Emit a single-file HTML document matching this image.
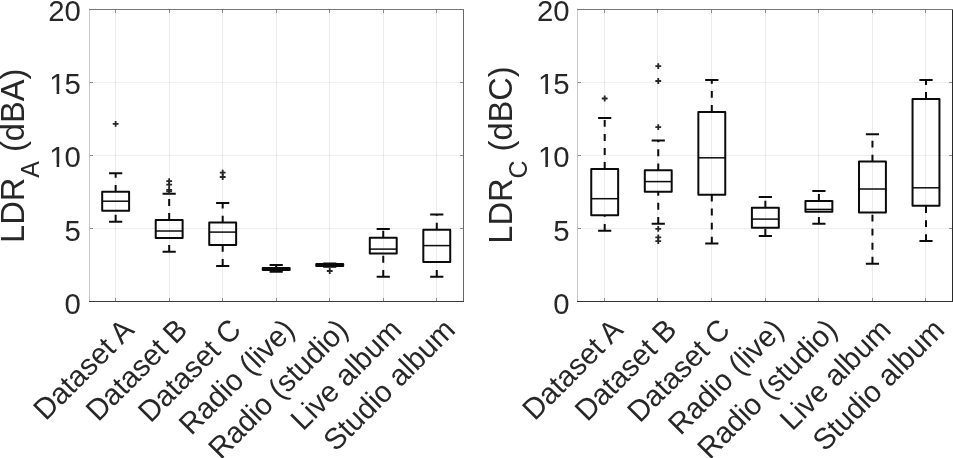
<!DOCTYPE html>
<html lang="en"><head><meta charset="utf-8"><title>LDR box plots</title>
<style>html,body{margin:0;padding:0;background:#fff;overflow:hidden}svg{display:block}</style>
</head><body>
<svg width="953" height="458" viewBox="0 0 953 458" font-family='"Liberation Sans", sans-serif' fill="#262626">
<rect width="953" height="458" fill="#fff"/>
<rect x="115" y="10" width="1" height="291" fill="rgba(38,38,38,0.095)"/>
<rect x="169" y="10" width="1" height="291" fill="rgba(38,38,38,0.095)"/>
<rect x="222" y="10" width="1" height="291" fill="rgba(38,38,38,0.095)"/>
<rect x="276" y="10" width="1" height="291" fill="rgba(38,38,38,0.095)"/>
<rect x="329" y="10" width="1" height="291" fill="rgba(38,38,38,0.095)"/>
<rect x="383" y="10" width="1" height="291" fill="rgba(38,38,38,0.095)"/>
<rect x="436" y="10" width="1" height="291" fill="rgba(38,38,38,0.095)"/>
<rect x="90" y="82" width="373" height="1" fill="rgba(38,38,38,0.075)"/>
<rect x="90" y="155" width="373" height="1" fill="rgba(38,38,38,0.075)"/>
<rect x="90" y="228" width="373" height="1" fill="rgba(38,38,38,0.075)"/>
<rect x="115" y="10" width="1" height="3" fill="#8c8c8c"/>
<rect x="115" y="298" width="1" height="3" fill="#8c8c8c"/>
<rect x="169" y="10" width="1" height="3" fill="#8c8c8c"/>
<rect x="169" y="298" width="1" height="3" fill="#8c8c8c"/>
<rect x="222" y="10" width="1" height="3" fill="#8c8c8c"/>
<rect x="222" y="298" width="1" height="3" fill="#8c8c8c"/>
<rect x="276" y="10" width="1" height="3" fill="#8c8c8c"/>
<rect x="276" y="298" width="1" height="3" fill="#8c8c8c"/>
<rect x="329" y="10" width="1" height="3" fill="#8c8c8c"/>
<rect x="329" y="298" width="1" height="3" fill="#8c8c8c"/>
<rect x="383" y="10" width="1" height="3" fill="#8c8c8c"/>
<rect x="383" y="298" width="1" height="3" fill="#8c8c8c"/>
<rect x="436" y="10" width="1" height="3" fill="#8c8c8c"/>
<rect x="436" y="298" width="1" height="3" fill="#8c8c8c"/>
<rect x="90" y="82" width="3" height="1" fill="#8c8c8c"/>
<rect x="460" y="82" width="3" height="1" fill="#8c8c8c"/>
<rect x="90" y="155" width="3" height="1" fill="#8c8c8c"/>
<rect x="460" y="155" width="3" height="1" fill="#8c8c8c"/>
<rect x="90" y="228" width="3" height="1" fill="#8c8c8c"/>
<rect x="460" y="228" width="3" height="1" fill="#8c8c8c"/>
<rect x="89" y="9" width="1" height="293" fill="#c8c8c8"/>
<rect x="463" y="9" width="1" height="293" fill="#686868"/>
<rect x="89" y="9" width="375" height="1" fill="#777777"/>
<rect x="89" y="301" width="375" height="1" fill="#3a3a3a"/>
<path d="M115.65 191.8V173.3M115.65 221.7V210.7" stroke="#0b0b0b" stroke-width="2.0" stroke-dasharray="6.9 7.15" fill="none"/>
<path d="M109.05 173.3h13.2M109.05 221.7h13.2" stroke="#0b0b0b" stroke-width="2.0" fill="none"/>
<rect x="102.20" y="191.8" width="26.9" height="18.90" stroke="#0b0b0b" stroke-width="2.0" fill="none" stroke-linejoin="round"/>
<path d="M102.20 201.2h26.9" stroke="#0b0b0b" stroke-width="1.5" fill="none"/>
<path d="M112.75 123.9h5.8M115.65 121.00v5.8" stroke="#262626" stroke-width="1.8" fill="none"/>
<path d="M169.17 220.0V193.7M169.17 251.8V237.9" stroke="#0b0b0b" stroke-width="2.0" stroke-dasharray="6.9 7.15" fill="none"/>
<path d="M162.57 193.7h13.2M162.57 251.8h13.2" stroke="#0b0b0b" stroke-width="2.0" fill="none"/>
<rect x="155.72" y="220.0" width="26.9" height="17.90" stroke="#0b0b0b" stroke-width="2.0" fill="none" stroke-linejoin="round"/>
<path d="M155.72 231.0h26.9" stroke="#0b0b0b" stroke-width="1.5" fill="none"/>
<path d="M166.27 181.2h5.8M169.17 178.30v5.8" stroke="#262626" stroke-width="1.8" fill="none"/>
<path d="M166.27 184.7h5.8M169.17 181.80v5.8" stroke="#262626" stroke-width="1.8" fill="none"/>
<path d="M166.27 189.8h5.8M169.17 186.90v5.8" stroke="#262626" stroke-width="1.8" fill="none"/>
<path d="M166.27 191.3h5.8M169.17 188.40v5.8" stroke="#262626" stroke-width="1.8" fill="none"/>
<path d="M222.69 222.6V203.0M222.69 265.9V245.1" stroke="#0b0b0b" stroke-width="2.0" stroke-dasharray="6.9 7.15" fill="none"/>
<path d="M216.09 203.0h13.2M216.09 265.9h13.2" stroke="#0b0b0b" stroke-width="2.0" fill="none"/>
<rect x="209.24" y="222.6" width="26.9" height="22.50" stroke="#0b0b0b" stroke-width="2.0" fill="none" stroke-linejoin="round"/>
<path d="M209.24 232.1h26.9" stroke="#0b0b0b" stroke-width="1.5" fill="none"/>
<path d="M219.79 172.6h5.8M222.69 169.70v5.8" stroke="#262626" stroke-width="1.8" fill="none"/>
<path d="M219.79 177.0h5.8M222.69 174.10v5.8" stroke="#262626" stroke-width="1.8" fill="none"/>
<path d="M276.21 267.9V265.0M276.21 271.8V269.9" stroke="#0b0b0b" stroke-width="2.0" stroke-dasharray="6.9 7.15" fill="none"/>
<path d="M269.61 265.0h13.2M269.61 271.8h13.2" stroke="#0b0b0b" stroke-width="2.0" fill="none"/>
<rect x="262.76" y="267.9" width="26.9" height="2.00" stroke="#0b0b0b" stroke-width="2.0" fill="none" stroke-linejoin="round"/>
<path d="M262.76 268.9h26.9" stroke="#0b0b0b" stroke-width="1.5" fill="none"/>
<path d="M329.73 263.9V263.6M329.73 266.8V266.0" stroke="#0b0b0b" stroke-width="2.0" stroke-dasharray="6.9 7.15" fill="none"/>
<path d="M323.13 263.6h13.2M323.13 266.8h13.2" stroke="#0b0b0b" stroke-width="2.0" fill="none"/>
<rect x="316.28" y="263.9" width="26.9" height="2.10" stroke="#0b0b0b" stroke-width="2.0" fill="none" stroke-linejoin="round"/>
<path d="M316.28 264.9h26.9" stroke="#0b0b0b" stroke-width="1.5" fill="none"/>
<path d="M326.83 271h5.8M329.73 268.10v5.8" stroke="#262626" stroke-width="1.8" fill="none"/>
<path d="M383.25 237.7V228.9M383.25 276.8V253.6" stroke="#0b0b0b" stroke-width="2.0" stroke-dasharray="6.9 7.15" fill="none"/>
<path d="M376.65 228.9h13.2M376.65 276.8h13.2" stroke="#0b0b0b" stroke-width="2.0" fill="none"/>
<rect x="369.80" y="237.7" width="26.9" height="15.90" stroke="#0b0b0b" stroke-width="2.0" fill="none" stroke-linejoin="round"/>
<path d="M369.80 249.1h26.9" stroke="#0b0b0b" stroke-width="1.5" fill="none"/>
<path d="M436.77 229.7V214.6M436.77 276.8V262.0" stroke="#0b0b0b" stroke-width="2.0" stroke-dasharray="6.9 7.15" fill="none"/>
<path d="M430.17 214.6h13.2M430.17 276.8h13.2" stroke="#0b0b0b" stroke-width="2.0" fill="none"/>
<rect x="423.32" y="229.7" width="26.9" height="32.30" stroke="#0b0b0b" stroke-width="2.0" fill="none" stroke-linejoin="round"/>
<path d="M423.32 245.6h26.9" stroke="#0b0b0b" stroke-width="1.5" fill="none"/>
<rect x="604" y="10" width="1" height="291" fill="rgba(38,38,38,0.095)"/>
<rect x="657" y="10" width="1" height="291" fill="rgba(38,38,38,0.095)"/>
<rect x="711" y="10" width="1" height="291" fill="rgba(38,38,38,0.095)"/>
<rect x="765" y="10" width="1" height="291" fill="rgba(38,38,38,0.095)"/>
<rect x="818" y="10" width="1" height="291" fill="rgba(38,38,38,0.095)"/>
<rect x="872" y="10" width="1" height="291" fill="rgba(38,38,38,0.095)"/>
<rect x="925" y="10" width="1" height="291" fill="rgba(38,38,38,0.095)"/>
<rect x="578" y="82" width="374" height="1" fill="rgba(38,38,38,0.075)"/>
<rect x="578" y="155" width="374" height="1" fill="rgba(38,38,38,0.075)"/>
<rect x="578" y="228" width="374" height="1" fill="rgba(38,38,38,0.075)"/>
<rect x="604" y="10" width="1" height="3" fill="#8c8c8c"/>
<rect x="604" y="298" width="1" height="3" fill="#8c8c8c"/>
<rect x="657" y="10" width="1" height="3" fill="#8c8c8c"/>
<rect x="657" y="298" width="1" height="3" fill="#8c8c8c"/>
<rect x="711" y="10" width="1" height="3" fill="#8c8c8c"/>
<rect x="711" y="298" width="1" height="3" fill="#8c8c8c"/>
<rect x="765" y="10" width="1" height="3" fill="#8c8c8c"/>
<rect x="765" y="298" width="1" height="3" fill="#8c8c8c"/>
<rect x="818" y="10" width="1" height="3" fill="#8c8c8c"/>
<rect x="818" y="298" width="1" height="3" fill="#8c8c8c"/>
<rect x="872" y="10" width="1" height="3" fill="#8c8c8c"/>
<rect x="872" y="298" width="1" height="3" fill="#8c8c8c"/>
<rect x="925" y="10" width="1" height="3" fill="#8c8c8c"/>
<rect x="925" y="298" width="1" height="3" fill="#8c8c8c"/>
<rect x="578" y="82" width="3" height="1" fill="#8c8c8c"/>
<rect x="949" y="82" width="3" height="1" fill="#8c8c8c"/>
<rect x="578" y="155" width="3" height="1" fill="#8c8c8c"/>
<rect x="949" y="155" width="3" height="1" fill="#8c8c8c"/>
<rect x="578" y="228" width="3" height="1" fill="#8c8c8c"/>
<rect x="949" y="228" width="3" height="1" fill="#8c8c8c"/>
<rect x="577" y="9" width="1" height="293" fill="#c8c8c8"/>
<rect x="952" y="9" width="1" height="293" fill="#2a2a2a"/>
<rect x="577" y="9" width="376" height="1" fill="#777777"/>
<rect x="577" y="301" width="376" height="1" fill="#333333"/>
<path d="M604.70 169.0V117.9M604.70 230.8V215.2" stroke="#0b0b0b" stroke-width="2.0" stroke-dasharray="6.9 7.15" fill="none"/>
<path d="M598.10 117.9h13.2M598.10 230.8h13.2" stroke="#0b0b0b" stroke-width="2.0" fill="none"/>
<rect x="591.25" y="169.0" width="26.9" height="46.20" stroke="#0b0b0b" stroke-width="2.0" fill="none" stroke-linejoin="round"/>
<path d="M591.25 198.7h26.9" stroke="#0b0b0b" stroke-width="1.5" fill="none"/>
<path d="M601.80 98.5h5.8M604.70 95.60v5.8" stroke="#262626" stroke-width="1.8" fill="none"/>
<path d="M658.25 170.3V140.4M658.25 223.8V191.8" stroke="#0b0b0b" stroke-width="2.0" stroke-dasharray="6.9 7.15" fill="none"/>
<path d="M651.65 140.4h13.2M651.65 223.8h13.2" stroke="#0b0b0b" stroke-width="2.0" fill="none"/>
<rect x="644.80" y="170.3" width="26.9" height="21.50" stroke="#0b0b0b" stroke-width="2.0" fill="none" stroke-linejoin="round"/>
<path d="M644.80 181.6h26.9" stroke="#0b0b0b" stroke-width="1.5" fill="none"/>
<path d="M655.35 66.1h5.8M658.25 63.20v5.8" stroke="#262626" stroke-width="1.8" fill="none"/>
<path d="M655.35 81h5.8M658.25 78.10v5.8" stroke="#262626" stroke-width="1.8" fill="none"/>
<path d="M655.35 127.2h5.8M658.25 124.30v5.8" stroke="#262626" stroke-width="1.8" fill="none"/>
<path d="M655.35 228.9h5.8M658.25 226.00v5.8" stroke="#262626" stroke-width="1.8" fill="none"/>
<path d="M655.35 237.3h5.8M658.25 234.40v5.8" stroke="#262626" stroke-width="1.8" fill="none"/>
<path d="M655.35 241.1h5.8M658.25 238.20v5.8" stroke="#262626" stroke-width="1.8" fill="none"/>
<path d="M711.80 111.9V80.0M711.80 243.6V194.7" stroke="#0b0b0b" stroke-width="2.0" stroke-dasharray="6.9 7.15" fill="none"/>
<path d="M705.20 80.0h13.2M705.20 243.6h13.2" stroke="#0b0b0b" stroke-width="2.0" fill="none"/>
<rect x="698.35" y="111.9" width="26.9" height="82.80" stroke="#0b0b0b" stroke-width="2.0" fill="none" stroke-linejoin="round"/>
<path d="M698.35 157.8h26.9" stroke="#0b0b0b" stroke-width="1.5" fill="none"/>
<path d="M765.35 207.7V197.0M765.35 235.9V227.8" stroke="#0b0b0b" stroke-width="2.0" stroke-dasharray="6.9 7.15" fill="none"/>
<path d="M758.75 197.0h13.2M758.75 235.9h13.2" stroke="#0b0b0b" stroke-width="2.0" fill="none"/>
<rect x="751.90" y="207.7" width="26.9" height="20.10" stroke="#0b0b0b" stroke-width="2.0" fill="none" stroke-linejoin="round"/>
<path d="M751.90 219.1h26.9" stroke="#0b0b0b" stroke-width="1.5" fill="none"/>
<path d="M818.90 201.0V190.9M818.90 223.8V211.7" stroke="#0b0b0b" stroke-width="2.0" stroke-dasharray="6.9 7.15" fill="none"/>
<path d="M812.30 190.9h13.2M812.30 223.8h13.2" stroke="#0b0b0b" stroke-width="2.0" fill="none"/>
<rect x="805.45" y="201.0" width="26.9" height="10.70" stroke="#0b0b0b" stroke-width="2.0" fill="none" stroke-linejoin="round"/>
<path d="M805.45 209.4h26.9" stroke="#0b0b0b" stroke-width="1.5" fill="none"/>
<path d="M872.45 161.6V134.2M872.45 263.7V212.5" stroke="#0b0b0b" stroke-width="2.0" stroke-dasharray="6.9 7.15" fill="none"/>
<path d="M865.85 134.2h13.2M865.85 263.7h13.2" stroke="#0b0b0b" stroke-width="2.0" fill="none"/>
<rect x="859.00" y="161.6" width="26.9" height="50.90" stroke="#0b0b0b" stroke-width="2.0" fill="none" stroke-linejoin="round"/>
<path d="M859.00 189.0h26.9" stroke="#0b0b0b" stroke-width="1.5" fill="none"/>
<path d="M926.00 99.0V80.0M926.00 241.1V205.7" stroke="#0b0b0b" stroke-width="2.0" stroke-dasharray="6.9 7.15" fill="none"/>
<path d="M919.40 80.0h13.2M919.40 241.1h13.2" stroke="#0b0b0b" stroke-width="2.0" fill="none"/>
<rect x="912.55" y="99.0" width="26.9" height="106.70" stroke="#0b0b0b" stroke-width="2.0" fill="none" stroke-linejoin="round"/>
<path d="M912.55 187.8h26.9" stroke="#0b0b0b" stroke-width="1.5" fill="none"/>
<g opacity="0.995">
<text transform="translate(80.90 20.70) scale(1 1.025)" font-size="29.33" text-anchor="end">20</text>
<text transform="translate(80.90 94.40) scale(1 1.025)" font-size="29.33" text-anchor="end">5</text>
<text transform="translate(49.25 94.40) scale(1 1.025)" font-size="29.33">1</text>
<rect x="50.45" y="90.80" width="6.18" height="4.6" fill="#fff"/>
<rect x="59.21" y="90.80" width="6" height="4.6" fill="#fff"/>
<text transform="translate(80.90 167.30) scale(1 1.025)" font-size="29.33" text-anchor="end">0</text>
<text transform="translate(49.25 167.30) scale(1 1.025)" font-size="29.33">1</text>
<rect x="50.45" y="163.70" width="6.18" height="4.6" fill="#fff"/>
<rect x="59.21" y="163.70" width="6" height="4.6" fill="#fff"/>
<text transform="translate(80.90 240.80) scale(1 1.025)" font-size="29.33" text-anchor="end">5</text>
<text transform="translate(80.90 313.90) scale(1 1.025)" font-size="29.33" text-anchor="end">0</text>
<text transform="translate(135.65 331.50) rotate(-45) scale(1 1.02)" font-size="29.33" text-anchor="end">Dataset A</text>
<text transform="translate(189.17 331.50) rotate(-45) scale(1 1.02)" font-size="29.33" text-anchor="end">Dataset B</text>
<text transform="translate(242.69 331.50) rotate(-45) scale(1 1.02)" font-size="29.33" text-anchor="end">Dataset C</text>
<text transform="translate(296.21 331.50) rotate(-45) scale(1 1.02)" font-size="29.33" text-anchor="end">Radio (live)</text>
<text transform="translate(349.73 331.50) rotate(-45) scale(1 1.02)" font-size="29.33" text-anchor="end">Radio (studio)</text>
<text transform="translate(403.25 331.50) rotate(-45) scale(1 1.02)" font-size="29.33" text-anchor="end">Live album</text>
<text transform="translate(456.77 331.50) rotate(-45) scale(1 1.02)" font-size="29.33" text-anchor="end">Studio album</text>
<text transform="translate(23.80 155.80) rotate(-90) scale(1 1.04)" font-size="32.6" text-anchor="middle">LDR<tspan font-size="25.0" dy="15">A</tspan><tspan dy="-15"> (dBA)</tspan></text>
<text transform="translate(569.60 20.70) scale(1 1.025)" font-size="29.33" text-anchor="end">20</text>
<text transform="translate(569.60 94.40) scale(1 1.025)" font-size="29.33" text-anchor="end">5</text>
<text transform="translate(537.95 94.40) scale(1 1.025)" font-size="29.33">1</text>
<rect x="539.15" y="90.80" width="6.18" height="4.6" fill="#fff"/>
<rect x="547.91" y="90.80" width="6" height="4.6" fill="#fff"/>
<text transform="translate(569.60 167.30) scale(1 1.025)" font-size="29.33" text-anchor="end">0</text>
<text transform="translate(537.95 167.30) scale(1 1.025)" font-size="29.33">1</text>
<rect x="539.15" y="163.70" width="6.18" height="4.6" fill="#fff"/>
<rect x="547.91" y="163.70" width="6" height="4.6" fill="#fff"/>
<text transform="translate(569.60 240.80) scale(1 1.025)" font-size="29.33" text-anchor="end">5</text>
<text transform="translate(569.60 313.90) scale(1 1.025)" font-size="29.33" text-anchor="end">0</text>
<text transform="translate(624.70 331.50) rotate(-45) scale(1 1.02)" font-size="29.33" text-anchor="end">Dataset A</text>
<text transform="translate(678.25 331.50) rotate(-45) scale(1 1.02)" font-size="29.33" text-anchor="end">Dataset B</text>
<text transform="translate(731.80 331.50) rotate(-45) scale(1 1.02)" font-size="29.33" text-anchor="end">Dataset C</text>
<text transform="translate(785.35 331.50) rotate(-45) scale(1 1.02)" font-size="29.33" text-anchor="end">Radio (live)</text>
<text transform="translate(838.90 331.50) rotate(-45) scale(1 1.02)" font-size="29.33" text-anchor="end">Radio (studio)</text>
<text transform="translate(892.45 331.50) rotate(-45) scale(1 1.02)" font-size="29.33" text-anchor="end">Live album</text>
<text transform="translate(946.00 331.50) rotate(-45) scale(1 1.02)" font-size="29.33" text-anchor="end">Studio album</text>
<text transform="translate(511.80 155.00) rotate(-90) scale(1 1.04)" font-size="32.6" text-anchor="middle">LDR<tspan font-size="25.0" dy="15">C</tspan><tspan dy="-15"> (dBC)</tspan></text>
</g>
</svg>
</body></html>
